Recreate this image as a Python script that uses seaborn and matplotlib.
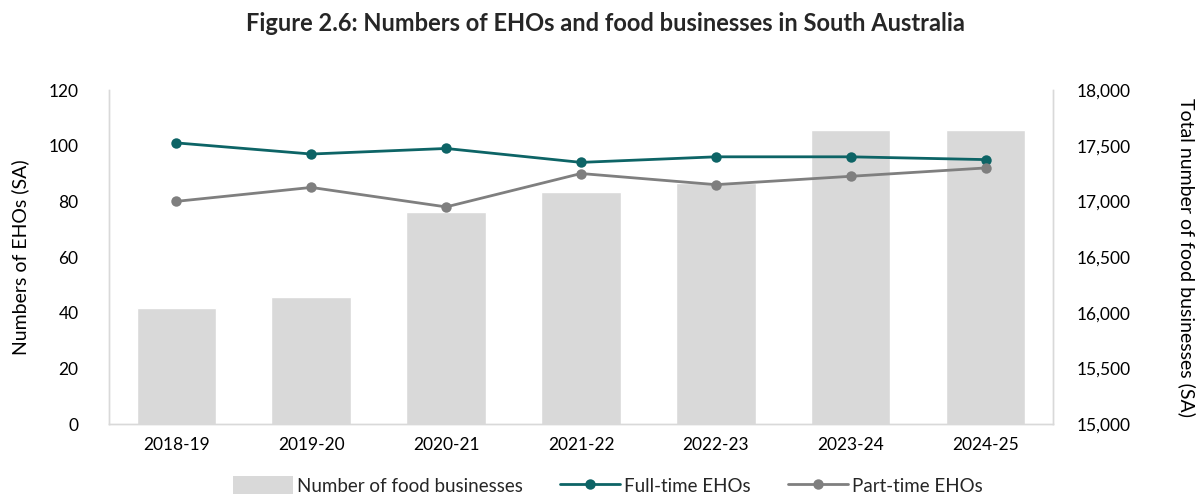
import matplotlib
matplotlib.use("Agg")
import matplotlib.pyplot as plt
import seaborn as sns
import pandas as pd
from matplotlib.ticker import FuncFormatter, MultipleLocator
from matplotlib.patches import Patch
from matplotlib.lines import Line2D

years = ["2018-19", "2019-20", "2020-21", "2021-22", "2022-23", "2023-24", "2024-25"]
food_businesses = [16040, 16140, 16905, 17082, 17163, 17641, 17645]
full_time_ehos = [101, 97, 99, 94, 96, 96, 95]
part_time_ehos = [80, 85, 78, 90, 86, 89, 92]

sns.set_theme(style="white")
plt.rcParams["font.family"] = ["Lato", "DejaVu Sans"]

TEAL = "#0D6466"
GREY = "#7F7F7F"
BAR = "#D9D9D9"
SPINE = "#D9D9D9"
TEXT = "#000000"

fig = plt.figure(figsize=(12.03, 4.99), dpi=100)
ax = fig.add_axes([0.0906, 0.1503, 0.7847, 0.6693])

# Bars on the base axes (right-hand scale), lines on the twin (left-hand scale)
bars = pd.DataFrame({"year": years, "count": food_businesses})
sns.barplot(data=bars, x="year", y="count", order=years, color=BAR,
            width=0.59, saturation=1, ax=ax, zorder=1)
ax.set_xlim(-0.5, 6.5)

lines = pd.DataFrame({
    "year": years * 2,
    "ehos": full_time_ehos + part_time_ehos,
    "type": ["Full-time EHOs"] * len(years) + ["Part-time EHOs"] * len(years),
})
ax2 = ax.twinx()
sns.lineplot(data=lines, x="year", y="ehos", hue="type",
             palette={"Full-time EHOs": TEAL, "Part-time EHOs": GREY},
             marker="o", markersize=7.5, markeredgewidth=0, linewidth=2,
             ax=ax2, legend=False)

ax.set_ylim(15000, 18000)
ax.yaxis.set_major_locator(MultipleLocator(500))
ax.yaxis.set_major_formatter(FuncFormatter(lambda v, p: f"{int(v):,}"))
ax.yaxis.tick_right()
ax.yaxis.set_label_position("right")
ax.set_ylabel("Total number of food businesses (SA)", fontsize=14,
              rotation=270, labelpad=47, color=TEXT)
ax.set_xlabel("")

ax2.set_ylim(0, 120)
ax2.yaxis.set_major_locator(MultipleLocator(20))
ax2.yaxis.tick_left()
ax2.yaxis.set_label_position("left")
ax2.set_ylabel("Numbers of EHOs (SA)", fontsize=14, labelpad=14, color=TEXT)
ax2.set_xlabel("")
ax2.set_xlim(-0.5, 6.5)

for a in (ax, ax2):
    a.tick_params(axis="both", length=0, labelsize=12.5, colors=TEXT)
    a.spines["top"].set_visible(False)
    for s in ("left", "right", "bottom"):
        a.spines[s].set_color(SPINE)
        a.spines[s].set_linewidth(1)
ax.tick_params(axis="y", pad=17)
ax2.tick_params(axis="y", pad=22)
ax.tick_params(axis="x", pad=9)
ax2.tick_params(axis="x", labelbottom=False)

fig.suptitle("Figure 2.6: Numbers of EHOs and food businesses in South Australia",
             fontsize=17, fontweight="bold", x=0.503, y=0.975)

handles = [
    Patch(facecolor=BAR, edgecolor="none", label="Number of food businesses"),
    Line2D([], [], color=TEAL, lw=2, marker="o", markersize=7.5, markeredgewidth=0,
           label="Full-time EHOs"),
    Line2D([], [], color=GREY, lw=2, marker="o", markersize=7.5, markeredgewidth=0,
           label="Part-time EHOs"),
]
fig.legend(handles=handles, loc="lower center", ncol=3, frameon=False,
           bbox_to_anchor=(0.505, -0.025), fontsize=13.5, handlelength=3.2,
           handleheight=1.1, columnspacing=2.0, handletextpad=0.2)

fig.savefig("out.png", dpi=100)
